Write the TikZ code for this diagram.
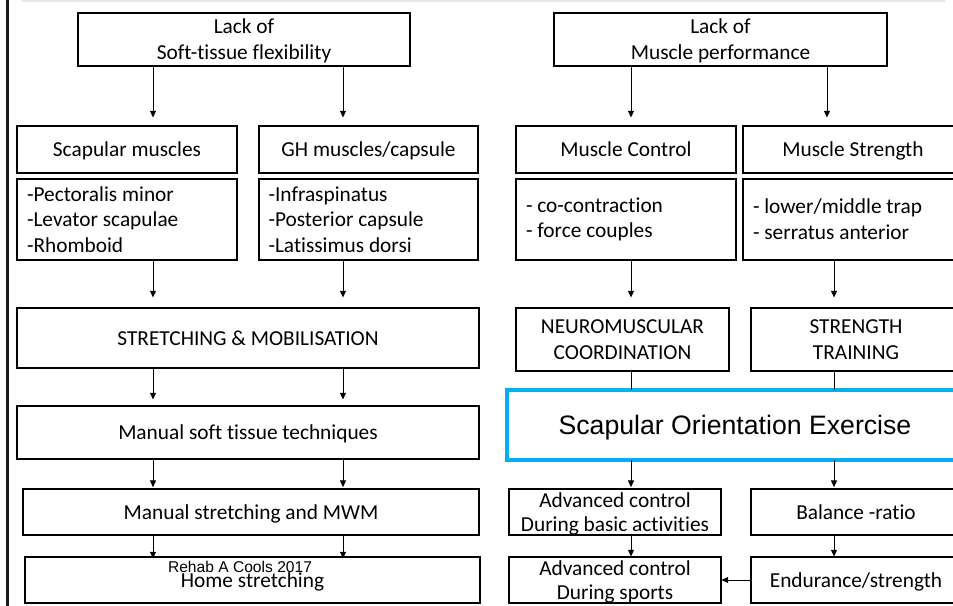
\documentclass[tikz,border=0pt]{standalone}
\usepackage{fontspec}
\setmainfont{Carlito}[Ligatures=CommonOff]
\newfontfamily\arialfont{Liberation Sans}
\usetikzlibrary{arrows.meta}
\definecolor{slideblue}{HTML}{00B0F0}
\definecolor{bandgray}{HTML}{E6E6E6}

\begin{document}
\begin{tikzpicture}[x=0.75pt,y=-0.75pt,
  size/.style 2 args={minimum width=#1*0.75pt,minimum height=#2*0.75pt},
  frame/.style={draw=black,line width=0.8pt,inner sep=0pt},
  box/.style={frame,align=center,text depth=0pt,
    font=\fontsize{16}{19.5}\selectfont},
  tight/.style={font=\fontsize{16}{18}\selectfont},
  listbox/.style={frame,align=flush left,text width=150pt,
    font=\fontsize{16}{19.3}\selectfont},
  focusbox/.style={draw=slideblue,line width=3pt,inner sep=0pt,text depth=0pt,
    font=\arialfont\fontsize{20}{24}\selectfont},
  arr/.style={line width=0.6pt,-{Triangle[length=5pt,width=4.5pt]}},
  link/.style={line width=0.6pt},
  ]
  % page frame
  \useasboundingbox (0,0) rectangle (953,606);
  \clip (0,0) rectangle (953,606);
  \fill[white] (0,0) rectangle (953,606);
  \fill[bandgray] (22,0) rectangle (945,2.5);
  \fill[black!90] (5.5,0) rectangle (8.5,606);

  % column positions of the connectors
  \coordinate (xa) at (153,0);
  \coordinate (xb) at (343,0);
  \coordinate (xc) at (631,0);
  \coordinate (xdt) at (827,0);
  \coordinate (xd) at (834,0);

  % ---- flexibility branch ----
  \node[box,size={332}{53}] (lsf) at (244,39.5) {Lack of\\Soft-tissue flexibility};
  \node[box,size={220}{47}] (scap) at (127,149.5) {Scapular muscles};
  \node[box,size={219}{47}] (gh) at (368.5,149.5) {GH muscles/capsule};
  \node[listbox,size={220}{81}] (scaplist) at (127,219.5)
    {-Pectoralis minor\\-Levator scapulae\\-Rhomboid};
  \node[listbox,size={219}{81}] (ghlist) at (368.5,219.5)
    {-Infraspinatus\\-Posterior capsule\\-Latissimus dorsi};
  \node[box,size={462}{60}] (stretch) at (248,338) {STRETCHING \& MOBILISATION};
  \node[box,size={462}{53}] (manual) at (248,432.5) {Manual soft tissue techniques};
  \node[box,size={456}{46}] (mwm) at (251,512) {Manual stretching and MWM};
  \node[box,size={455}{46}] (home) at (252.5,580) {Home stretching};

  % ---- muscle performance branch ----
  \node[box,size={333}{53}] (lmp) at (720.5,39.5) {Lack of\\Muscle performance};
  \node[box,size={220}{47}] (mctl) at (626,149.5) {Muscle Control};
  \node[box,size={220}{47}] (mstr) at (853,149.5) {Muscle Strength};
  \node[listbox,size={220}{81}] (mctllist) at (626,219.5)
    {- co-contraction\\- force couples};
  \node[listbox,size={220}{81}] (mstrlist) at (853,219.5)
    {- lower/middle trap\\- serratus anterior};
  \node[box,size={213}{63}] (neuro) at (622.5,339.5) {NEUROMUSCULAR\\COORDINATION};
  \node[box,size={210}{63}] (strtr) at (856,339.5) {STRENGTH\\TRAINING};
  \node[focusbox,size={456}{70}] (soe) at (735,425) {Scapular Orientation Exercise};
  \node[box,tight,size={212}{46}] (advbasic) at (615,512)
    {Advanced control\\During basic activities};
  \node[box,size={210}{46}] (balance) at (856,512) {Balance -ratio};
  \node[box,tight,size={212}{46}] (advsport) at (615,580)
    {Advanced control\\During sports};
  \node[box,size={210}{46}] (endur) at (856,580) {Endurance/strength};

  % footer credit
  \node[font=\arialfont\fontsize{11.7}{14}\selectfont,anchor=base,inner sep=0pt]
    (credit) at (240,572) {Rehab A Cools 2017};

  % ---- connectors, flexibility branch ----
  \draw[arr,shorten >=6pt] (lsf.south -| xa) -- (scap.north -| xa);
  \draw[arr,shorten >=6pt] (lsf.south -| xb) -- (gh.north -| xb);
  \draw[arr,shorten >=7.5pt] (scaplist.south -| xa) -- (stretch.north -| xa);
  \draw[arr,shorten >=7.5pt] (ghlist.south -| xb) -- (stretch.north -| xb);
  \draw[arr,shorten >=4.5pt] (stretch.south -| xa) -- (manual.north -| xa);
  \draw[arr,shorten >=4.5pt] (stretch.south -| xb) -- (manual.north -| xb);
  \draw[arr,shorten >=1pt] (manual.south -| xa) -- (mwm.north -| xa);
  \draw[arr,shorten >=1pt] (manual.south -| xb) -- (mwm.north -| xb);
  \draw[arr,shorten >=-1.5pt] (mwm.south -| xa) -- (home.north -| xa);
  \draw[arr,shorten >=-1.5pt] (mwm.south -| xb) -- (home.north -| xb);

  % ---- connectors, muscle performance branch ----
  \draw[arr,shorten >=6pt] (lmp.south -| xc) -- (mctl.north -| xc);
  \draw[arr,shorten >=6pt] (lmp.south -| xdt) -- (mstr.north -| xdt);
  \draw[arr,shorten >=7.5pt] (mctllist.south -| xc) -- (neuro.north -| xc);
  \draw[arr,shorten >=7.5pt] (mstrlist.south -| xd) -- (strtr.north -| xd);
  \draw[link] (neuro.south -| xc) -- ([yshift=-1.5pt]soe.north -| xc);
  \draw[link] (strtr.south -| xd) -- ([yshift=-1.5pt]soe.north -| xd);
  \draw[arr,shorten >=1pt] ([yshift=1.5pt]soe.south -| xc) -- (advbasic.north -| xc);
  \draw[arr,shorten >=1pt] ([yshift=1.5pt]soe.south -| xd) -- (balance.north -| xd);
  \draw[arr] (advbasic.south -| xc) -- (advsport.north -| xc);
  \draw[arr] (balance.south -| xd) -- (endur.north -| xd);
  \draw[arr] (endur.west) -- (advsport.east);
\end{tikzpicture}
\end{document}
